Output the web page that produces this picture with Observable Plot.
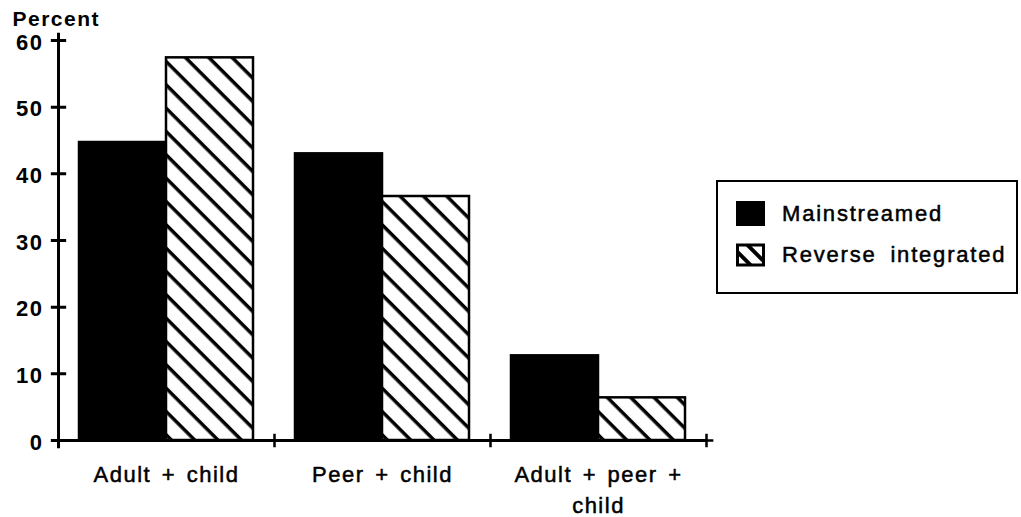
<!DOCTYPE html>
<html>
<head>
<meta charset="utf-8">
<script src="https://cdn.jsdelivr.net/npm/d3@7"></script>
<script src="https://cdn.jsdelivr.net/npm/@observablehq/plot@0.6"></script>
<style>
  html, body { margin: 0; padding: 0; background: white; }
  #chart { position: relative; width: 1021px; height: 517px; font-family: "Liberation Sans", Arial, sans-serif; }
  #legend { position: absolute; left: 716px; top: 180px; width: 298px; height: 110px; border: 2px solid black; box-sizing: content-box; }
  .item { position: absolute; left: 18px; display: flex; align-items: center; font-size: 22px; letter-spacing: 1.8px; word-spacing: 6px; -webkit-text-stroke: 0.5px black; }
  .item svg { margin-right: 16px; }
</style>
</head>
<body>
<div id="chart"></div>
<script>
const groups = ["Adult + child", "Peer + child", "Adult + peer + child"];
const groupLabels = ["Adult + child", "Peer + child", "Adult + peer +\nchild"];
const series = ["Mainstreamed", "Reverse integrated"];
const mainstreamed = [44.7, 43.0, 12.7];
const reverseIntegrated = [57.4, 36.6, 6.4];
const yTicks = [0, 10, 20, 30, 40, 50, 60];
const seriesFills = ["black", "url(#hatch)"];

const data = groups.flatMap((g, i) => [
  {group: g, series: series[0], value: mainstreamed[i]},
  {group: g, series: series[1], value: reverseIntegrated[i]}
]);

const font = '"Liberation Sans", Arial, sans-serif';

const svg = Plot.plot({
  width: 1021,
  height: 517,
  marginLeft: 58,
  marginRight: 315,
  marginTop: 40,
  marginBottom: 77,
  style: {fontFamily: font, fontSize: "22px", background: "white", color: "black"},
  fx: {domain: groups, padding: 0, axis: null},
  x: {domain: series, paddingInner: 0, paddingOuter: 0.23, axis: null},
  y: {domain: [0, 60], axis: null},
  color: {domain: series, range: seriesFills},
  marks: [
    Plot.barY(data, {fx: "group", x: "series", y: "value", fill: "series", stroke: "black", strokeWidth: 2.5}),
    Plot.ruleY([0], {stroke: "black", strokeWidth: 3}),
    Plot.frame({anchor: "left", facetAnchor: "left", stroke: "black", strokeWidth: 3}),
    Plot.dot([0], {frameAnchor: "bottom-right", symbol: "plus", r: 4.5, stroke: "black", strokeWidth: 2.5}),
    Plot.dot(yTicks, {fx: () => groups[0], y: d => d, frameAnchor: "left", symbol: "plus", r: 5, stroke: "black", strokeWidth: 3}),
    Plot.text(yTicks, {fx: () => groups[0], y: d => d, text: d => String(d), frameAnchor: "left", textAnchor: "end", dx: -15, dy: 2,
      fontSize: 22, fontWeight: "bold", fill: "black", ariaLabel: "ytick"}),
    Plot.text(["Percent"], {fx: () => groups[0], text: d => d, frameAnchor: "top-left", textAnchor: "start", lineAnchor: "bottom", dx: -46, dy: -15,
      fontSize: 21, fontWeight: "bold", fill: "black"}),
    Plot.text(groups, {fx: d => d, text: (d, i) => groupLabels[i], frameAnchor: "bottom", lineAnchor: "top", dy: 20, lineHeight: 1.4,
      fontSize: 22, fill: "black", stroke: "black", strokeWidth: 0.5})
  ]
});

const defs = d3.select(svg).insert("defs", ":first-child");
const pat = defs.append("pattern").attr("id", "hatch").attr("patternUnits", "userSpaceOnUse")
  .attr("width", 16.5).attr("height", 16.5).attr("patternTransform", "rotate(-45)");
pat.append("rect").attr("width", 16.5).attr("height", 16.5).attr("fill", "white");
pat.append("line").attr("x1", 8).attr("x2", 8).attr("y1", -2).attr("y2", 20).attr("stroke", "black").attr("stroke-width", 3.5);

d3.select(svg).selectAll("text").style("letter-spacing", "1.5px").style("word-spacing", "3px");
d3.select(svg).selectAll('g[aria-label="ytick"] text').style("letter-spacing", "3.5px");

const chart = document.getElementById("chart");
chart.appendChild(svg);

// legend
const legend = d3.select(chart).append("div").attr("id", "legend");
series.forEach((s, i) => {
  const item = legend.append("div").attr("class", "item").style("top", i === 0 ? "19px" : "60px");
  const sw = item.append("svg").attr("width", 30).attr("height", 26);
  if (i === 1) {
    const p = sw.append("defs").append("pattern").attr("id", "hatchLegend").attr("patternUnits", "userSpaceOnUse")
      .attr("width", 12).attr("height", 12).attr("patternTransform", "rotate(-45)");
    p.append("rect").attr("width", 12).attr("height", 12).attr("fill", "white");
    p.append("line").attr("x1", 6).attr("x2", 6).attr("y1", -2).attr("y2", 14).attr("stroke", "black").attr("stroke-width", 4);
    sw.append("rect").attr("x", 1.5).attr("y", 3).attr("width", 26).attr("height", 20).attr("fill", "url(#hatchLegend)").attr("stroke", "black").attr("stroke-width", 3);
  } else {
    sw.append("rect").attr("x", 0).attr("y", 0).attr("width", 29).attr("height", 25).attr("fill", seriesFills[0]);
  }
  item.append("span").text(s);
});
</script>
</body>
</html>
